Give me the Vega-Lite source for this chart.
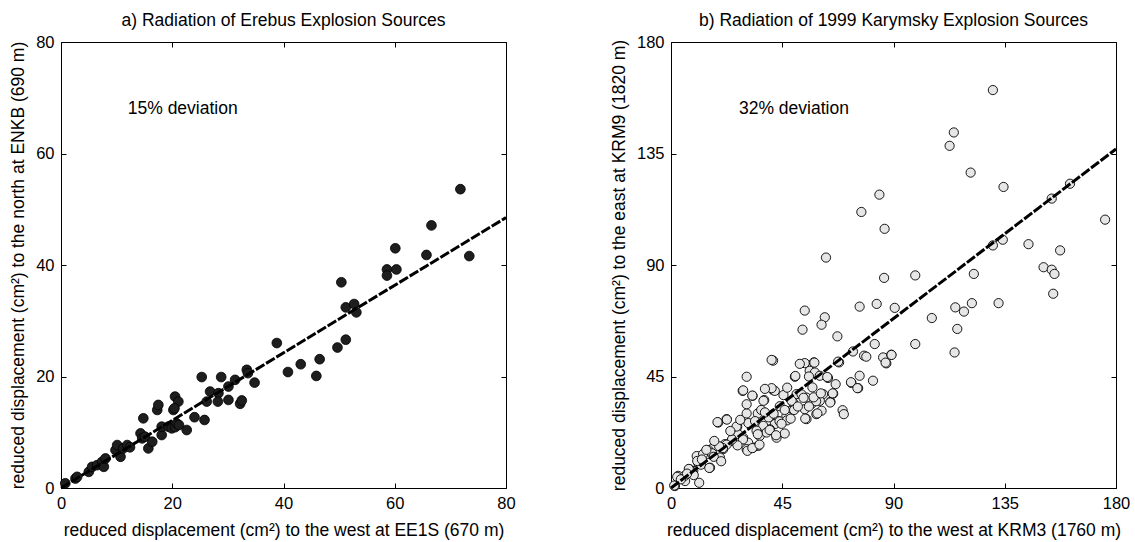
{
  "$schema": "https://vega.github.io/schema/vega-lite/v6.json",
  "padding": {"left": 9, "top": 11, "right": 5, "bottom": 2},
  "background": "white",
  "config": {
    "view": {"stroke": null},
    "font": "Liberation Sans",
    "axis": {"labelFont": "Liberation Sans", "labelFontSize": 16.5, "labelColor": "#000", "titleFont": "Liberation Sans", "titleFontSize": 17.5, "titleFontWeight": "normal", "titleColor": "#000", "tickColor": "#000", "tickSize": -5, "tickWidth": 1, "domainColor": "#000", "domainWidth": 1, "grid": false, "labelFlush": false, "labelOverlap": false, "labelPadding": 12},
    "axisX": {"titlePadding": 10},
    "axisY": {"titlePadding": 8},
    "title": {"font": "Liberation Sans", "fontSize": 17.5, "fontWeight": "normal", "color": "#000", "offset": 5}
  },
  "datasets": {
    "erebus": [
      {"x": 0.77, "y": 0.84}, {"x": 2.6, "y": 1.7}, {"x": 2.9, "y": 2.0}, {"x": 5.0, "y": 2.9}, {"x": 5.6, "y": 3.8},
      {"x": 6.5, "y": 4.1}, {"x": 7.4, "y": 4.7}, {"x": 7.7, "y": 3.8}, {"x": 8.0, "y": 5.3}, {"x": 9.8, "y": 6.8},
      {"x": 10.1, "y": 7.7}, {"x": 10.7, "y": 5.6}, {"x": 11.2, "y": 7.1}, {"x": 11.9, "y": 7.7}, {"x": 12.4, "y": 7.3},
      {"x": 14.3, "y": 9.8}, {"x": 14.6, "y": 8.9}, {"x": 15.1, "y": 9.2}, {"x": 15.7, "y": 7.1}, {"x": 16.4, "y": 8.3},
      {"x": 14.8, "y": 12.5}, {"x": 17.3, "y": 14.0}, {"x": 17.5, "y": 14.9}, {"x": 18.1, "y": 9.5}, {"x": 18.1, "y": 11.0},
      {"x": 19.3, "y": 11.0}, {"x": 19.9, "y": 10.7}, {"x": 20.5, "y": 10.9}, {"x": 20.8, "y": 11.6}, {"x": 20.2, "y": 14.0},
      {"x": 20.5, "y": 16.4}, {"x": 21.1, "y": 15.5}, {"x": 20.4, "y": 14.3}, {"x": 21.2, "y": 11.3}, {"x": 22.6, "y": 10.4},
      {"x": 24.0, "y": 12.7}, {"x": 25.8, "y": 12.2}, {"x": 25.3, "y": 19.9}, {"x": 26.2, "y": 15.5}, {"x": 26.8, "y": 17.3},
      {"x": 28.3, "y": 17.0}, {"x": 28.2, "y": 15.5}, {"x": 30.1, "y": 15.8}, {"x": 28.8, "y": 19.9}, {"x": 30.1, "y": 18.2},
      {"x": 31.3, "y": 19.4}, {"x": 32.2, "y": 15.1}, {"x": 32.5, "y": 15.7}, {"x": 33.4, "y": 21.2}, {"x": 33.6, "y": 20.6},
      {"x": 34.8, "y": 18.9}, {"x": 38.8, "y": 26.0}, {"x": 40.8, "y": 20.8}, {"x": 43.1, "y": 22.2}, {"x": 45.9, "y": 20.1},
      {"x": 46.5, "y": 23.1}, {"x": 49.7, "y": 25.2}, {"x": 50.4, "y": 36.9}, {"x": 51.2, "y": 26.6}, {"x": 51.2, "y": 32.4},
      {"x": 52.7, "y": 33.0}, {"x": 53.1, "y": 31.5}, {"x": 58.6, "y": 39.2}, {"x": 58.6, "y": 38.1}, {"x": 60.1, "y": 43.0},
      {"x": 60.3, "y": 39.2}, {"x": 65.7, "y": 41.8}, {"x": 66.6, "y": 47.1}, {"x": 71.8, "y": 53.6}, {"x": 73.4, "y": 41.6}
    ],
    "erebusFit": [{"x": 0, "y": 0}, {"x": 80, "y": 48.5}],
    "erebusText": [{"x": 12.0, "y": 67.9, "label": "15% deviation"}],
    "karymsky": [
      {"x": 130.2, "y": 160.6}, {"x": 114.4, "y": 143.5}, {"x": 112.7, "y": 138.1}, {"x": 121.2, "y": 127.3}, {"x": 134.5, "y": 121.5},
      {"x": 161.4, "y": 122.8}, {"x": 154.0, "y": 116.8}, {"x": 175.6, "y": 108.3}, {"x": 130.2, "y": 97.9}, {"x": 134.2, "y": 100.2},
      {"x": 144.6, "y": 98.4}, {"x": 157.4, "y": 95.9}, {"x": 150.7, "y": 89.1}, {"x": 154.0, "y": 88.1}, {"x": 155.1, "y": 86.4},
      {"x": 154.6, "y": 78.4}, {"x": 122.5, "y": 86.4}, {"x": 132.5, "y": 74.6}, {"x": 121.7, "y": 74.6}, {"x": 115.0, "y": 72.9},
      {"x": 118.5, "y": 71.2}, {"x": 105.5, "y": 68.6}, {"x": 98.8, "y": 85.8}, {"x": 86.2, "y": 84.8}, {"x": 90.5, "y": 72.7},
      {"x": 83.2, "y": 74.3}, {"x": 76.3, "y": 73.2}, {"x": 77.0, "y": 111.4}, {"x": 84.3, "y": 118.4}, {"x": 86.4, "y": 104.6},
      {"x": 62.7, "y": 93.0}, {"x": 54.1, "y": 71.6}, {"x": 62.2, "y": 68.9}, {"x": 60.9, "y": 65.9}, {"x": 53.2, "y": 63.9},
      {"x": 115.8, "y": 64.2}, {"x": 67.3, "y": 61.2}, {"x": 98.8, "y": 58.1}, {"x": 114.7, "y": 54.7}, {"x": 82.4, "y": 58.1},
      {"x": 73.6, "y": 55.1}, {"x": 78.1, "y": 53.4}, {"x": 79.0, "y": 53.0}, {"x": 85.8, "y": 52.7}, {"x": 87.1, "y": 50.3},
      {"x": 89.1, "y": 53.8}, {"x": 68.0, "y": 50.7}, {"x": 76.3, "y": 45.3}, {"x": 75.7, "y": 40.3}, {"x": 73.0, "y": 42.4},
      {"x": 81.7, "y": 43.3}, {"x": 30.6, "y": 44.9}, {"x": 41.3, "y": 51.4}, {"x": 29.0, "y": 39.2}, {"x": 33.0, "y": 37.2},
      {"x": 37.7, "y": 35.5}, {"x": 41.3, "y": 39.5}, {"x": 42.0, "y": 39.2}, {"x": 50.1, "y": 44.9}, {"x": 54.1, "y": 50.4},
      {"x": 57.8, "y": 50.7}, {"x": 56.1, "y": 47.3}, {"x": 58.2, "y": 46.6}, {"x": 60.2, "y": 45.3}, {"x": 63.5, "y": 44.4},
      {"x": 66.6, "y": 41.9}, {"x": 65.6, "y": 38.1}, {"x": 64.5, "y": 34.8}, {"x": 69.4, "y": 31.4}, {"x": 69.9, "y": 29.8},
      {"x": 61.5, "y": 37.9}, {"x": 60.2, "y": 35.2}, {"x": 58.8, "y": 29.8}, {"x": 56.8, "y": 33.9}, {"x": 54.8, "y": 36.5},
      {"x": 54.1, "y": 31.8}, {"x": 54.8, "y": 27.8}, {"x": 50.8, "y": 37.9}, {"x": 49.4, "y": 34.5}, {"x": 48.1, "y": 31.1},
      {"x": 46.7, "y": 29.1}, {"x": 48.8, "y": 35.2}, {"x": 43.3, "y": 27.1}, {"x": 42.0, "y": 25.8}, {"x": 40.0, "y": 23.7},
      {"x": 46.0, "y": 22.0}, {"x": 42.7, "y": 20.3}, {"x": 37.3, "y": 25.1}, {"x": 34.6, "y": 23.1}, {"x": 35.9, "y": 21.0},
      {"x": 38.7, "y": 22.4}, {"x": 35.3, "y": 17.0}, {"x": 33.2, "y": 16.3}, {"x": 31.2, "y": 18.3}, {"x": 30.6, "y": 15.7},
      {"x": 29.2, "y": 20.3}, {"x": 26.8, "y": 24.7}, {"x": 26.3, "y": 22.0}, {"x": 22.5, "y": 27.8}, {"x": 19.1, "y": 26.4},
      {"x": 27.2, "y": 21.7}, {"x": 24.5, "y": 19.0}, {"x": 21.8, "y": 17.7}, {"x": 21.1, "y": 15.7}, {"x": 19.1, "y": 15.0},
      {"x": 17.1, "y": 16.3}, {"x": 15.1, "y": 15.3}, {"x": 14.4, "y": 13.6}, {"x": 19.8, "y": 12.3}, {"x": 15.8, "y": 8.2},
      {"x": 11.0, "y": 10.2}, {"x": 10.4, "y": 12.9}, {"x": 9.0, "y": 6.9}, {"x": 7.4, "y": 7.6}, {"x": 2.9, "y": 4.9},
      {"x": 1.6, "y": 0.8}, {"x": 11.4, "y": 2.1}, {"x": 5.7, "y": 2.8}, {"x": 8.4, "y": 6.6}, {"x": 9.2, "y": 5.2},
      {"x": 12.1, "y": 9.4}, {"x": 13.0, "y": 13.7}, {"x": 16.6, "y": 14.0}, {"x": 17.3, "y": 12.6}, {"x": 20.3, "y": 10.8},
      {"x": 22.6, "y": 27.6}, {"x": 26.5, "y": 24.8}, {"x": 29.1, "y": 19.6}, {"x": 26.9, "y": 17.2}, {"x": 30.9, "y": 15.0},
      {"x": 32.9, "y": 16.1}, {"x": 35.8, "y": 17.5}, {"x": 24.7, "y": 19.6}, {"x": 22.5, "y": 17.5}, {"x": 39.9, "y": 23.4},
      {"x": 42.5, "y": 21.3}, {"x": 35.1, "y": 21.7}, {"x": 43.9, "y": 26.9}, {"x": 46.9, "y": 27.3}, {"x": 48.4, "y": 28.0},
      {"x": 49.8, "y": 31.5}, {"x": 44.7, "y": 25.9}, {"x": 30.6, "y": 30.1}, {"x": 31.3, "y": 26.2}, {"x": 35.1, "y": 30.1},
      {"x": 36.5, "y": 31.5}, {"x": 32.9, "y": 37.3}, {"x": 37.4, "y": 35.2}, {"x": 30.6, "y": 33.8}, {"x": 40.7, "y": 40.3},
      {"x": 29.2, "y": 39.4}, {"x": 52.8, "y": 37.8}, {"x": 57.2, "y": 40.6}, {"x": 58.7, "y": 35.0}, {"x": 55.8, "y": 32.9},
      {"x": 51.3, "y": 32.9}, {"x": 53.6, "y": 36.4}, {"x": 57.7, "y": 36.6}, {"x": 60.9, "y": 31.2}, {"x": 59.2, "y": 30.1},
      {"x": 64.4, "y": 34.5}, {"x": 65.4, "y": 38.2}, {"x": 60.6, "y": 38.2}, {"x": 54.3, "y": 28.0}, {"x": 52.1, "y": 50.1},
      {"x": 58.0, "y": 50.6}, {"x": 55.8, "y": 45.0}, {"x": 63.2, "y": 44.8}, {"x": 50.3, "y": 45.2}, {"x": 72.8, "y": 42.7},
      {"x": 75.4, "y": 40.3}, {"x": 67.6, "y": 51.0}, {"x": 40.7, "y": 51.7}, {"x": 86.8, "y": 50.6}, {"x": 89.2, "y": 53.7},
      {"x": 18.8, "y": 26.6}, {"x": 7.2, "y": 7.7}, {"x": 5.5, "y": 4.9}, {"x": 2.5, "y": 4.5}, {"x": 1.3, "y": 1.0},
      {"x": 10.6, "y": 10.9}, {"x": 15.5, "y": 8.1}, {"x": 14.3, "y": 15.4}, {"x": 21.0, "y": 16.1}, {"x": 19.5, "y": 16.8},
      {"x": 38.0, "y": 40.0}, {"x": 39.5, "y": 28.5}, {"x": 41.5, "y": 30.0}, {"x": 44.0, "y": 33.0}, {"x": 45.5, "y": 37.5},
      {"x": 47.0, "y": 40.5}, {"x": 46.0, "y": 31.5}, {"x": 38.0, "y": 30.5}, {"x": 34.0, "y": 27.0}, {"x": 28.0, "y": 27.5},
      {"x": 24.0, "y": 23.0}, {"x": 17.5, "y": 19.0}, {"x": 12.5, "y": 11.5}, {"x": 4.0, "y": 3.5}, {"x": 6.5, "y": 5.8}
    ],
    "karymskyFit": [{"x": 0, "y": 0}, {"x": 180, "y": 136.8}],
    "karymskyText": [{"x": 27.5, "y": 152.9, "label": "32% deviation"}]
  },
  "hconcat": [
    {
      "width": 445,
      "height": 446,
      "title": {"text": "a) Radiation of Erebus Explosion Sources"},
      "layer": [
        {
          "data": {"name": "erebus"},
          "mark": {"type": "circle", "size": 95, "fill": "#1e1e1e", "stroke": "#000", "strokeWidth": 0.8, "opacity": 1},
          "encoding": {
            "x": {"field": "x", "type": "quantitative", "scale": {"domain": [0, 80], "nice": false, "zero": false},
                  "axis": {"orient": "bottom", "values": [0, 20, 40, 60, 80], "title": "reduced displacement (cm²) to the west at EE1S (670 m)"}},
            "y": {"field": "y", "type": "quantitative", "scale": {"domain": [0, 80], "nice": false, "zero": false},
                  "axis": {"orient": "left", "values": [0, 20, 40, 60, 80], "title": "reduced displacement (cm²) to the north at ENKB (690 m)"}}
          }
        },
        {
          "data": {"name": "erebusFit"},
          "mark": {"type": "line", "color": "#000", "strokeWidth": 3, "strokeDash": [10, 2]},
          "encoding": {
            "x": {"field": "x", "type": "quantitative", "axis": {"orient": "top", "values": [0, 20, 40, 60, 80], "labels": false, "title": null}},
            "y": {"field": "y", "type": "quantitative", "axis": {"orient": "right", "values": [0, 20, 40, 60, 80], "labels": false, "title": null}}
          }
        },
        {
          "data": {"name": "erebusText"},
          "mark": {"type": "text", "align": "left", "baseline": "middle", "fontSize": 17.5, "font": "Liberation Sans", "color": "#000"},
          "encoding": {
            "x": {"field": "x", "type": "quantitative", "axis": null},
            "y": {"field": "y", "type": "quantitative", "axis": null},
            "text": {"field": "label"}
          }
        }
      ],
      "resolve": {"axis": {"x": "independent", "y": "independent"}}
    },
    {
      "width": 445,
      "height": 446,
      "title": {"text": "b) Radiation of 1999 Karymsky Explosion Sources"},
      "layer": [
        {
          "data": {"name": "karymsky"},
          "mark": {"type": "circle", "size": 85, "fill": "#e6e6e6", "stroke": "#000", "strokeWidth": 0.9, "opacity": 1},
          "encoding": {
            "x": {"field": "x", "type": "quantitative", "scale": {"domain": [0, 180], "nice": false, "zero": false},
                  "axis": {"orient": "bottom", "values": [0, 45, 90, 135, 180], "title": "reduced displacement (cm²) to the west at KRM3 (1760 m)"}},
            "y": {"field": "y", "type": "quantitative", "scale": {"domain": [0, 180], "nice": false, "zero": false},
                  "axis": {"orient": "left", "values": [0, 45, 90, 135, 180], "title": "reduced displacement (cm²) to the east at KRM9 (1820 m)"}}
          }
        },
        {
          "data": {"name": "karymskyFit"},
          "mark": {"type": "line", "color": "#000", "strokeWidth": 3, "strokeDash": [10, 2]},
          "encoding": {
            "x": {"field": "x", "type": "quantitative", "axis": {"orient": "top", "values": [0, 45, 90, 135, 180], "labels": false, "title": null}},
            "y": {"field": "y", "type": "quantitative", "axis": {"orient": "right", "values": [0, 45, 90, 135, 180], "labels": false, "title": null}}
          }
        },
        {
          "data": {"name": "karymskyText"},
          "mark": {"type": "text", "align": "left", "baseline": "middle", "fontSize": 17.5, "font": "Liberation Sans", "color": "#000"},
          "encoding": {
            "x": {"field": "x", "type": "quantitative", "axis": null},
            "y": {"field": "y", "type": "quantitative", "axis": null},
            "text": {"field": "label"}
          }
        }
      ],
      "resolve": {"axis": {"x": "independent", "y": "independent"}}
    }
  ],
  "spacing": 165,
  "bounds": "flush"
}
